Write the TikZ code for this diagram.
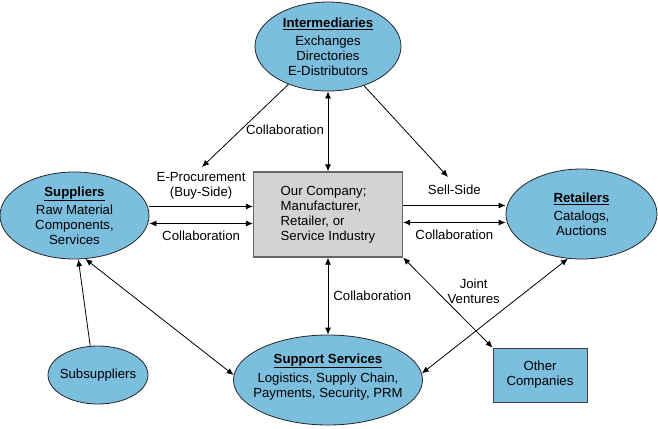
\documentclass[tikz,border=0pt]{standalone}
\usepackage{fontspec}
\setmainfont{Liberation Sans}
\usetikzlibrary{arrows.meta,positioning,shapes.geometric}

\definecolor{partyblue}{RGB}{124,190,222}
\definecolor{firmgray}{RGB}{211,211,211}
\newcommand{\partyhead}[1]{\underline{\textbf{#1}}}

\begin{document}
\begin{tikzpicture}[
  x=1pt, y=-1pt,
  >={Latex[length=7pt,width=6pt]},
  font=\fontsize{13.2}{15}\selectfont,
  party/.style={draw=black!85, line width=0.8pt, ellipse, fill=partyblue, align=center, inner xsep=-12pt, inner ysep=0pt},
  firm/.style={draw=black!60, line width=1.3pt, fill=firmgray, align=left, minimum width=149pt, minimum height=85pt},
  other/.style={draw=black!75, line width=0.8pt, fill=partyblue, align=center, minimum width=94pt, minimum height=54pt},
  flow/.style={line width=0.8pt},
  lbl/.style={align=center, inner sep=0pt}
]
  \useasboundingbox (0,0) rectangle (658,428);

  % the parties
  \node[party, minimum width=146pt, minimum height=89pt] (int) at (328,46.5) {\partyhead{Intermediaries}\\[3pt]Exchanges\\Directories\\E-Distributors};
  \node[firm] (company) at (328,214.5) {Our Company;\\Manufacturer,\\Retailer, or\\Service Industry};
  \node[party, minimum width=149pt, minimum height=87pt] (supp) at (74.5,215.5) {\partyhead{Suppliers}\\[3pt]Raw Material\\Components,\\Services};
  \node[party, minimum width=151pt, minimum height=90pt] (retail) at (581.5,214) {\partyhead{Retailers}\\[3pt]Catalogs,\\Auctions};
  \node[party, minimum width=189pt, minimum height=90pt] (support) at (328,380) {\partyhead{Support Services}\\[4pt]Logistics, Supply Chain,\\Payments, Security, PRM\\[-6pt]\mbox{}};
  \node[party, minimum width=100pt, minimum height=58pt] (sub) at (98,375) {Subsuppliers};
  \node[other] (other) at (540,375) {Other\\Companies};

  \coordinate (eprocTip) at (202,167);
  \coordinate (sellTip) at (448,177);

  % links
  \draw[flow, ->] (int) -- (eprocTip);
  \draw[flow, ->] (int) -- (sellTip);
  \draw[flow, <->] (int) -- (company);
  \node[lbl] (intCollab) at (285,130) {Collaboration};

  \draw[flow, ->] ([yshift=9pt]supp.east) -- node[lbl, above=7pt] (eprocLbl) {E-Procurement\\(Buy-Side)} ([yshift=9pt]supp.east -| company.west);
  \draw[flow, <->] ([yshift=-8pt]supp.east) -- node[lbl, below=7pt] (suppCollab) {Collaboration} ([yshift=-8pt]supp.east -| company.west);

  \draw[flow, ->] ([yshift=9pt]company.east) -- node[lbl, above=10pt] (sellLbl) {Sell-Side} ([yshift=9pt]company.east -| retail.west);
  \draw[flow, <->] ([yshift=-8pt]company.east) -- node[lbl, below=7pt] (retailCollab) {Collaboration} ([yshift=-8pt]company.east -| retail.west);

  \draw[flow, <->] (company) -- node[lbl, right=5pt] (supportCollab) {Collaboration} (support);
  \draw[flow, <->] (company.south east) -- node[lbl, pos=0.37, right=11pt] (jointLbl) {Joint\\Ventures} (other.north west);
  \draw[flow, <->] (retail.253) -- (support.4);
  \draw[flow, <->] (supp.284) -- (support.177);
  \draw[flow, ->] (sub.105) -- (supp.275);
\end{tikzpicture}
\end{document}
